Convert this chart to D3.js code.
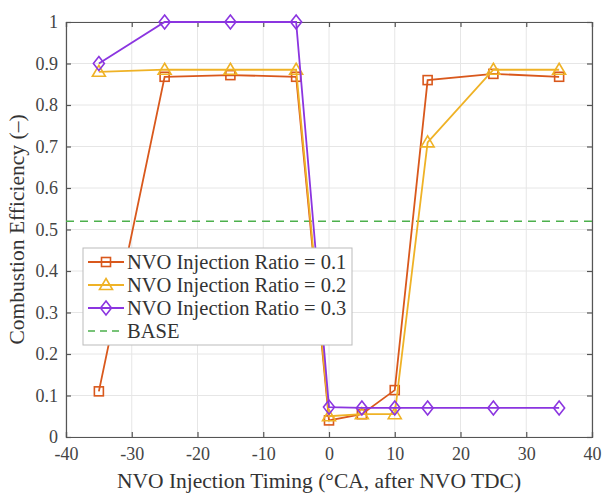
<!DOCTYPE html>
<html><head><meta charset="utf-8">
<script src="https://cdn.jsdelivr.net/npm/d3@7"></script>
<style>body{margin:0;background:#fff}svg{display:block}</style>
</head><body><svg id="c" width="603" height="494"></svg>
<script>
const timing = [-35, -25, -15, -5, 0, 5, 10, 15, 25, 35];
const ratio01 = [0.11, 0.868, 0.872, 0.868, 0.04, 0.055, 0.113, 0.86, 0.875, 0.868];
const ratio02 = [0.88, 0.885, 0.885, 0.885, 0.05, 0.055, 0.055, 0.71, 0.885, 0.885];
const ratio03 = [0.9, 1.0, 1.0, 1.0, 0.072, 0.07, 0.07, 0.07, 0.07, 0.07];
const baseValue = 0.52;
const xTicks = [-40, -30, -20, -10, 0, 10, 20, 30, 40];
const yTicks = [0, 0.1, 0.2, 0.3, 0.4, 0.5, 0.6, 0.7, 0.8, 0.9, 1];
const seriesNames = ["NVO Injection Ratio = 0.1", "NVO Injection Ratio = 0.2", "NVO Injection Ratio = 0.3", "BASE"];

const svg = d3.select("#c");
const L = 66, R = 592, T = 22, B = 437;
const x = d3.scaleLinear().domain([-40, 40]).range([L, R]);
const y = d3.scaleLinear().domain([0, 1]).range([B, T]);
const font = "'Liberation Serif', 'Times New Roman', serif";

// grid
const g = svg.append("g");
g.selectAll(".gx").data(xTicks).enter().append("line")
  .attr("x1", d => x(d)).attr("x2", d => x(d)).attr("y1", T).attr("y2", B)
  .attr("stroke", "#e6e6e6").attr("stroke-width", 1);
g.selectAll(".gy").data(yTicks).enter().append("line")
  .attr("y1", d => y(d)).attr("y2", d => y(d)).attr("x1", L).attr("x2", R)
  .attr("stroke", "#e6e6e6").attr("stroke-width", 1);

// axes
const axB = svg.append("g").attr("transform", `translate(0,${B})`)
  .call(d3.axisBottom(x).tickValues(xTicks).tickSize(-5).tickPadding(10).tickFormat(d => String(d)));
const axL = svg.append("g").attr("transform", `translate(${L},0)`)
  .call(d3.axisLeft(y).tickValues(yTicks).tickSize(-5).tickPadding(8).tickFormat(d => d === 0 || d === 1 ? String(d) : d3.format(".1f")(d)));
const axT = svg.append("g").attr("transform", `translate(0,${T})`)
  .call(d3.axisTop(x).tickValues(xTicks).tickSize(-5).tickFormat(""));
const axR = svg.append("g").attr("transform", `translate(${R},0)`)
  .call(d3.axisRight(y).tickValues(yTicks).tickSize(-5).tickFormat(""));
[axB, axL, axT, axR].forEach(a => {
  a.selectAll("path,line").attr("stroke", "#555").attr("stroke-width", 1.2);
  a.selectAll("text").attr("fill", "#444").style("font-family", font).style("font-size", "18px");
});

// labels
svg.append("text").attr("x", (L + R) / 2 - 10).attr("y", 488).attr("text-anchor", "middle")
  .style("font-family", font).style("font-size", "21.5px").attr("fill", "#333")
  .text("NVO Injection Timing (°CA, after NVO TDC)");
svg.append("text").attr("transform", `translate(24,${(T + B) / 2}) rotate(-90)`).attr("text-anchor", "middle")
  .style("font-family", font).style("font-size", "21.5px").attr("fill", "#333")
  .text("Combustion Efficiency (–)");

// base line
const green = "#4cb04c";
svg.append("line").attr("x1", L).attr("x2", R).attr("y1", y(baseValue)).attr("y2", y(baseValue))
  .attr("stroke", green).attr("stroke-width", 1.6).attr("stroke-dasharray", "8,6");

const colors = ["#d9581c", "#efb226", "#8b35e0"];
const data = [ratio01, ratio02, ratio03];
const shapes = ["square", "triangle", "diamond"];
const line = d3.line().x(d => x(d[0])).y(d => y(d[1]));

function marker(sel, shape, cx, cy, color) {
  if (shape === "square") {
    sel.append("rect").attr("x", cx - 4.5).attr("y", cy - 4.5).attr("width", 9).attr("height", 9)
      .attr("fill", "none").attr("stroke", color).attr("stroke-width", 1.6);
  } else if (shape === "triangle") {
    sel.append("path").attr("d", `M${cx},${cy - 6.5}L${cx + 6.5},${cy + 4.5}L${cx - 6.5},${cy + 4.5}Z`)
      .attr("fill", "none").attr("stroke", color).attr("stroke-width", 1.6);
  } else {
    sel.append("path").attr("d", `M${cx},${cy - 7}L${cx + 5.5},${cy}L${cx},${cy + 7}L${cx - 5.5},${cy}Z`)
      .attr("fill", "none").attr("stroke", color).attr("stroke-width", 1.6);
  }
}

data.forEach((vals, i) => {
  const pts = timing.map((t, j) => [t, vals[j]]);
  const sg = svg.append("g");
  sg.append("path").datum(pts).attr("d", line).attr("fill", "none")
    .attr("stroke", colors[i]).attr("stroke-width", 1.8);
  pts.forEach(p => marker(sg, shapes[i], x(p[0]), y(p[1]), colors[i]));
});

// legend
const lg = svg.append("g");
lg.append("rect").attr("x", 83).attr("y", 248).attr("width", 269).attr("height", 97)
  .attr("fill", "#fff").attr("stroke", "#bbb").attr("stroke-width", 1);
seriesNames.forEach((name, i) => {
  const yy = 262 + i * 23;
  if (i < 3) {
    lg.append("line").attr("x1", 88).attr("x2", 124).attr("y1", yy).attr("y2", yy)
      .attr("stroke", colors[i]).attr("stroke-width", 1.8);
    marker(lg, shapes[i], 106, yy, colors[i]);
  } else {
    lg.append("line").attr("x1", 88).attr("x2", 124).attr("y1", yy).attr("y2", yy)
      .attr("stroke", green).attr("stroke-width", 1.6).attr("stroke-dasharray", "7,5");
  }
  lg.append("text").attr("x", 127).attr("y", yy + 7).style("font-family", font)
    .style("font-size", "20.5px").attr("fill", "#333").text(name);
});
</script></body></html>
